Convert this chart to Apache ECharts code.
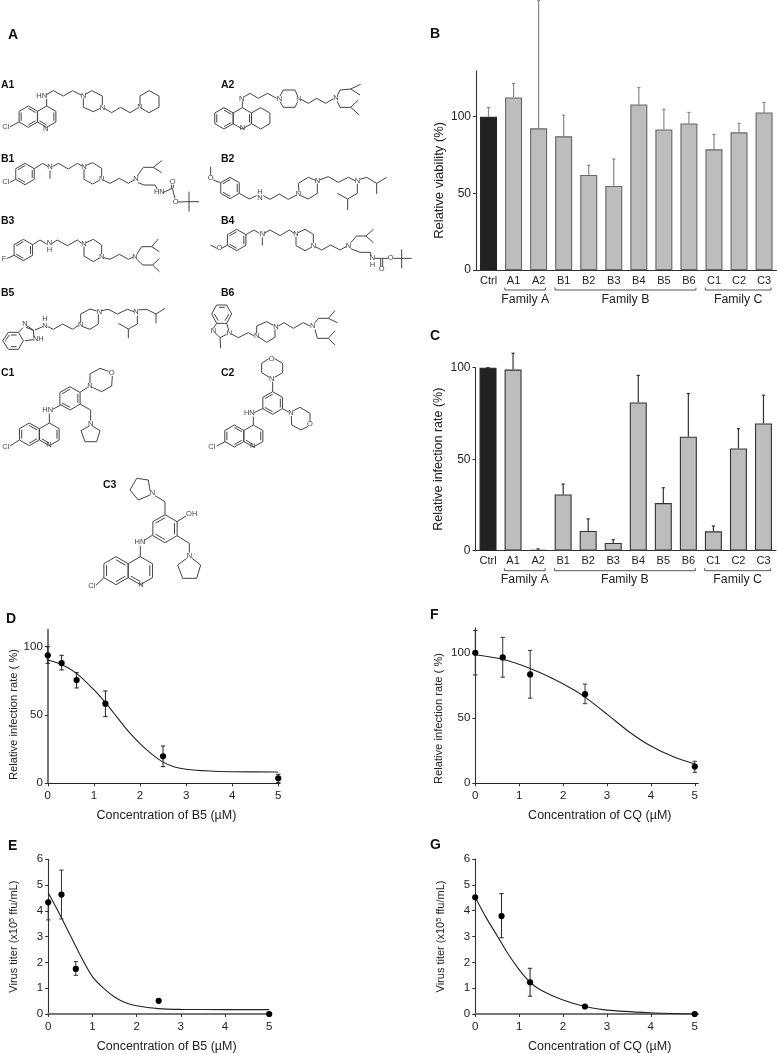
<!DOCTYPE html>
<html><head><meta charset="utf-8">
<style>html,body{margin:0;padding:0;background:#fff}#c{width:777px;height:1054px}</style>
<script src="https://cdn.jsdelivr.net/npm/echarts@6/dist/echarts.min.js"></script>
</head><body><div id="c"></div>
<script>
// ---------- DATA ----------
const categories = ['Ctrl','A1','A2','B1','B2','B3','B4','B5','B6','C1','C2','C3'];
const viability = [100,112.6,92.4,87.2,62,54.8,108,91.7,95.6,78.7,89.8,102.8];
const viabilityErrTop = [106,121.7,176,101,68.3,72.4,119,104.8,102.8,88.5,95.6,109.3];
const infection = [100,99,0.5,30.7,10.8,4.2,81,26,62.3,10.6,55.9,69.5];
const infectionErrTop = [100,107.9,1,36.4,17.4,6,95.8,34.4,85.9,13.5,66.7,85];
const familyNames = ['Family A','Family B','Family C'];
const familyStart = [1,3,9];
const familyEnd = [2,8,11];

const dX = [0,0.3,0.625,1.25,2.5,5];
const dY = [93.7,88,75.6,58.3,19.8,3.7];
const dLow = [87.8,83,69.8,48.8,12.2,0.5];
const dHigh = [100,93.7,81,67.6,27.3,6.6];
const dCurve = [[0,90.3],[0.3,87],[0.625,80.5],[1,68.5],[1.25,59],[1.5,48.5],[1.75,38],[2,29],[2.25,21.5],[2.5,15.5],[2.75,12],[3,10.3],[3.5,9],[4,8.5],[5,8.3]];

const eX = [0,0.3,0.625,2.5,5];
const eY = [4.33,4.63,1.75,0.51,0];
const eLow = [3.65,3.69,1.5,0.51,0];
const eHigh = [4.33,5.58,2.03,0.51,0];
const eCurve = [[0,4.7],[0.25,3.9],[0.5,3.05],[0.75,2.2],[1,1.45],[1.25,1],[1.5,0.66],[1.75,0.44],[2,0.32],[2.5,0.21],[3,0.18],[4,0.17],[5,0.17]];

const fX = [0,0.625,1.25,2.5,5];
const fY = [100,96.4,83.4,68.3,12.8];
const fLow = [83,81.3,65.2,61,8.4];
const fHigh = [117,111.8,101.8,76,16.9];
const fCurve = [[0,98.5],[0.625,95],[1.25,88],[1.75,80.5],[2.25,71.5],[2.5,66],[3,53],[3.5,39.5],[4,28.5],[4.5,20.5],[5,14.8]];

const gX = [0,0.6,1.25,2.5,5];
const gY = [4.52,3.79,1.23,0.29,0];
const gLow = [4.52,2.95,0.69,0.29,0];
const gHigh = [4.52,4.66,1.77,0.29,0];
const gCurve = [[0,4.52],[0.25,3.73],[0.5,3.03],[0.75,2.32],[1,1.72],[1.25,1.23],[1.5,0.92],[2,0.54],[2.5,0.29],[3,0.15],[4,0.05],[5,0]];

const xTicks = [0,1,2,3,4,5];
const pctTicks = [0,50,100];
const titerTicks = [0,1,2,3,4,5,6];

// ---------- CHEMICAL STRUCTURES (decorative drawing, coordinates are 3x page pixels) ----------
function hex(cx,cy,r){const p=[];for(let i=0;i<6;i++){const a=Math.PI/3*i-Math.PI/2;p.push([cx+r*Math.cos(a),cy+r*Math.sin(a)]);}p.push(p[0]);return p;}
function inner(cx,cy,r,ids){const a=i=>{const t=Math.PI/3*i-Math.PI/2;return [cx+r*0.78*Math.cos(t),cy+r*0.78*Math.sin(t)];};return ids.map(i=>[a(i),a((i+1)%6)]);}
const off1 = 20, off2 = 300;
const mol1 = [ // y offset 20
 hex(85,290,32),hex(140,290,32),...inner(85,290,32,[0,2,4]),...inner(140,290,32,[1,3]),
 [[30,320],[57,306]],[[140,258],[140,237]],[[137,225],[160,212],[190,228],[218,212],[243,225]],
 [[255,224],[275,212],[307,228],[307,255]],[[250,235],[250,262],[280,275],[301,265]],
 [[313,265],[335,278],[362,262],[390,278],[413,264]],[[420,255],[420,228],[447,212],[477,228],[477,262],[447,278],[426,266]],
 hex(672,295,32),hex(727,295,32),hex(782,295,32),...inner(672,295,32,[0,2,4]),...inner(727,295,32,[1]),
 [[727,263],[727,244]],[[733,230],[750,220],[775,235],[803,220],[830,235]],
 [[840,228],[850,210],[885,210],[893,228]],[[840,245],[850,262],[885,262],[893,245]],
 [[903,238],[925,250],[950,235],[977,250],[1000,236]],[[1012,227],[1020,210],[1052,207],[1082,193]],[[1052,207],[1080,225]],
 [[1012,244],[1020,262],[1052,262],[1075,240]],[[1052,262],[1078,285]],
 hex(75,462,32),...inner(75,462,32,[1,3,5]),[[30,487],[47,478]],[[103,446],[128,430],[144,440]],[[150,452],[150,476]],
 [[157,440],[175,430],[205,447],[232,430],[246,438]],[[258,436],[278,428],[305,445],[305,470]],[[252,448],[252,478],[278,492],[298,481]],
 [[311,481],[330,490],[358,475],[385,490],[402,480]],[[412,468],[430,442],[460,442],[485,422]],[[460,442],[485,458]],
 [[414,488],[432,495],[465,495],[472,508]],[[490,517],[517,505],[525,535]],[[514,505],[514,494]],[[520,505],[520,494]],[[534,546],[567,545],[597,545]],[[567,515],[567,575]],
 [[632,440],[632,465]],[[640,480],[662,488]],hex(690,504,32),...inner(690,504,32,[1,3,5]),[[718,520],[748,537],[770,527]],
 [[790,527],[810,538],[838,522],[865,538],[888,526]],[[897,515],[895,490],[925,472],[947,481]],[[902,527],[925,537],[952,520],[952,491]],
 [[958,480],[985,470],[1015,487],[1045,472],[1065,482]],[[1080,478],[1100,472],[1130,490],[1160,472]],[[1130,490],[1130,522]],
 [[1072,492],[1072,520],[1043,537],[1012,520]],[[1043,537],[1043,570]],
 hex(70,690,32),...inner(70,690,32,[1,3,5]),[[20,716],[42,706]],[[98,674],[120,660],[140,672]],[[156,670],[172,660],[202,677],[232,660],[245,670]],
 [[258,668],[280,658],[305,675],[305,702]],[[252,680],[252,708],[280,725],[298,714]],[[312,713],[330,718],[358,703],[385,718],[400,711]],
 [[411,702],[425,680],[455,680],[475,657]],[[455,680],[478,695]],[[411,718],[428,735],[458,735],[478,715]],[[458,735],[478,755]],
 [[632,675],[650,685]],[[666,684],[682,676]],hex(710,660,32),...inner(710,660,32,[1,3,5]),[[738,644],[762,630],[778,640]],[[787,652],[787,677]],
 [[792,640],[810,630],[840,647],[868,630],[882,640]],[[894,638],[915,628],[940,643],[940,669]],[[888,650],[888,677],[915,692],[934,682]],
 [[946,680],[965,690],[992,675],[1020,690],[1038,680]],[[1052,668],[1070,648],[1098,648],[1120,628]],[[1098,648],[1120,668]],
 [[1052,686],[1080,697],[1112,697],[1112,708]],[[1125,715],[1145,715],[1164,715]],[[1142,715],[1142,740]],[[1148,715],[1148,740]],[[1180,715],[1235,715]],[[1205,688],[1205,745]]
];
const mol2 = [ // y offset 300
 [[8,122],[25,97],[55,97],[70,122],[55,148],[25,148],[8,122]],[[33,105],[50,105]],[[33,140],[50,140]],[[16,122],[28,105]],
 [[55,97],[69,83]],[[81,78],[100,90],[102,112]],[[105,90],[128,80]],[[75,122],[100,119]],[[78,82],[102,92]],
 [[143,80],[160,88],[188,72],[218,88],[235,76]],[[242,68],[242,42],[270,27],[290,33]],[[248,80],[270,88],[295,72],[295,43]],
 [[304,32],[325,28],[352,42],[382,28],[402,35]],[[415,30],[440,28],[468,42],[495,25]],[[468,42],[468,70]],[[412,47],[412,72],[385,87],[355,70]],[[385,87],[385,115]],
 [[635,42],[650,15],[680,15],[695,42],[680,70],[650,70],[635,42]],[[657,22],[674,22]],[[643,42],[655,62]],[[687,42],[675,62]],
 [[650,70],[640,85]],[[680,70],[686,90]],[[645,98],[660,113],[680,103]],[[660,113],[662,145]],
 [[696,103],[715,113],[745,98],[762,108]],[[770,100],[770,78],[800,65],[820,76]],[[777,112],[800,127],[825,112],[825,88]],
 [[835,78],[852,68],[880,85],[910,68],[930,78]],[[945,68],[955,55],[985,55],[1005,32]],[[985,55],[1012,68]],[[945,88],[952,115],[985,115],[1005,92]],[[985,115],[1005,135]],
 hex(88,403,34),hex(148,403,34),...inner(88,403,34,[0,2,4]),...inner(148,403,34,[1,3]),[[30,438],[58,420]],
 [[148,369],[148,340]],[[158,328],[182,315]],hex(210,295,35),...inner(210,295,35,[1,3,5]),
 [[240,277],[263,262]],[[270,250],[270,222],[300,205],[326,214]],[[277,262],[305,275],[335,258],[337,228]],
 [[240,312],[272,330],[272,362]],[[268,378],[243,392],[255,425],[290,425],[300,392],[277,378]],
 hex(703,408,33),hex(760,408,33),...inner(703,408,33,[0,2,4]),...inner(760,408,33,[1,3]),[[650,438],[675,425]],
 [[760,375],[760,350]],[[763,338],[790,325]],hex(818,309,34),...inner(818,309,34,[1,3,5]),
 [[818,275],[818,245]],[[808,232],[785,218],[785,190],[806,176]],[[824,232],[848,218],[848,190],[824,176]],
 [[848,326],[866,336]],[[880,332],[900,322],[930,340],[930,364]],[[874,348],[875,375],[903,390],[924,379]],
 hex(348,812,42),hex(421,812,42),...inner(348,812,42,[0,2,4]),...inner(421,812,42,[1,3]),[[288,855],[312,833]],
 [[421,770],[421,738]],[[432,722],[458,705]],hex(495,686,42),...inner(495,686,42,[1,3,5]),
 [[495,644],[495,605],[465,587]],[[450,572],[445,540],[410,535],[390,570],[415,600],[450,585]],
 [[531,665],[558,648]],[[531,707],[568,730],[568,758]],[[576,775],[602,795],[590,835],[548,835],[533,795],[560,775]]
];
const atoms1 = [['Cl',17,322],['N',137,326],['HN',125,228],['N',250,228],['N',307,263],['N',420,262],
 ['N',727,323],['N',725,236],['N',838,236],['N',897,236],['N',1008,235],
 ['Cl',17,487],['N',150,442],['N',252,440],['N',305,478],['N',408,478],['HN',478,517],['O',518,487],['O',527,545],
 ['O',632,475],['N',780,535],['H',780,515],['N',895,523],['N',952,483],['N',1072,483],
 ['F',12,717],['N',148,670],['H',148,691],['N',252,672],['N',305,710],['N',405,710],
 ['O',658,685],['N',787,642],['N',888,642],['N',940,677],['N',1045,677],['N',1117,715],['H',1117,735],['O',1172,715],['O',1145,748]];
const atoms2 = [['N',75,73],['H',135,57],['N',135,78],['NH',115,118],['N',242,75],['N',298,35],['N',408,37],
 ['N',688,100],['N',640,92],['N',770,108],['N',828,80],['N',938,78],
 ['Cl',17,440],['N',147,435],['HN',143,330],['N',270,258],['O',335,218],['N',272,372],
 ['Cl',635,440],['N',758,438],['HN',748,340],['N',815,237],['O',815,178],['N',873,338],['O',930,373],
 ['Cl',275,858],['N',423,855],['HN',420,725],['N',457,578],['OH',575,643],['N',568,768]];
const compoundLabels = [['A1',1,85],['A2',221,85],['B1',1,159],['B2',221,159],['B3',1,221],['B4',221,221],['B5',1,293],['B6',221,293],['C1',1,373],['C2',221,373],['C3',103,485]];
const panelLabels = [['A',8,35],['B',430,34],['C',430,336],['D',6,619],['E',8,846],['F',430,615],['G',430,845]];

const graphics = [];
function addMol(list,off){list.forEach(pts=>graphics.push({type:'polyline',silent:true,shape:{points:pts.map(p=>[p[0]/3,p[1]/3+off])},style:{stroke:'#444',lineWidth:1,fill:null}}));}
function addAtoms(list,off){list.forEach(a=>graphics.push({type:'text',silent:true,x:a[1]/3,y:a[2]/3+off,style:{text:a[0],fill:'#444',font:'7.5px "Liberation Sans"',align:'center',verticalAlign:'middle',backgroundColor:'transparent'}}));}
addMol(mol1,off1);addMol(mol2,off2);addAtoms(atoms1,off1);addAtoms(atoms2,off2);
compoundLabels.forEach(l=>graphics.push({type:'text',silent:true,x:l[1],y:l[2],style:{text:l[0],fill:'#111',font:'bold 10.5px "Liberation Sans"',align:'left',verticalAlign:'middle'}}));
panelLabels.forEach(l=>graphics.push({type:'text',silent:true,x:l[1],y:l[2],style:{text:l[0],fill:'#111',font:'bold 14px "Liberation Sans"',align:'left',verticalAlign:'middle'}}));

// ---------- CHART ----------
const FONT='"Liberation Sans"', TXT='#222';
const grids=[
 {left:476,top:70.7,width:300.6,height:199.3},
 {left:475.5,top:367.7,width:300.5,height:183},
 {left:47.8,top:629.7,width:232.3,height:153.6},
 {left:48.2,top:859.3,width:221.9,height:157.4},
 {left:475.3,top:627.7,width:223,height:155.6},
 {left:475.2,top:859,width:223,height:156.7}
];
function catAxis(i,c){return {type:'category',gridIndex:i,data:categories,axisLine:{lineStyle:{color:c,width:1.1}},axisTick:{show:false},
 axisLabel:{interval:0,margin:5,fontFamily:FONT,fontSize:11,color:TXT}};}
function yA(i,max,ticks,name,gap,size,c,pad,fs){return {type:'value',gridIndex:i,min:0,max:max,splitLine:{show:false},
 axisLine:{show:true,lineStyle:{color:c,width:c==='#777'?2:1.1}},
 axisTick:{show:true,length:3,customValues:ticks,lineStyle:{color:'#333',width:1}},
 axisLabel:{customValues:ticks,margin:5,fontFamily:FONT,fontSize:fs||12,color:TXT},
 name:name,nameLocation:'middle',nameGap:gap,nameTextStyle:{fontFamily:FONT,fontSize:size,color:TXT,padding:pad||0,rich:{s:{fontFamily:FONT,fontSize:7.5,color:TXT,verticalAlign:'top',padding:[0,0,4,0]}}}};}
function xA(i,max,name,c,pad){return {type:'value',gridIndex:i,min:0,max:max,splitLine:{show:false},
 axisLine:{show:true,lineStyle:{color:c,width:c==='#777'?2:1.1}},
 axisTick:{show:true,length:3,customValues:xTicks,lineStyle:{color:'#333',width:1}},
 axisLabel:{customValues:xTicks,margin:7,fontFamily:FONT,fontSize:11.5,color:TXT},
 name:name,nameLocation:'middle',nameGap:26,nameTextStyle:{fontFamily:FONT,fontSize:12.5,color:TXT,padding:pad||0}};}

function barSeries(i,vals,border){return {type:'bar',xAxisIndex:i,yAxisIndex:i,barWidth:17,z:2,
 data:vals.map((v,k)=>({value:v,itemStyle:{color:k===0?'#222':'#bdbdbd',borderColor:k===0?'#222':border,borderWidth:1.1}}))};}
function barErr(i,vals,tops,color,w){return {type:'custom',xAxisIndex:i,yAxisIndex:i,z:1,silent:true,encode:{x:0,y:[1,2]},
 data:vals.map((v,k)=>[k,v,tops[k]]),
 renderItem(p,api){const a=api.coord([api.value(0),api.value(1)]),b=api.coord([api.value(0),api.value(2)]);
  const st={stroke:color,lineWidth:w,fill:null};
  return {type:'group',children:[{type:'line',shape:{x1:a[0],y1:a[1],x2:b[0],y2:b[1]},style:st},
   {type:'line',shape:{x1:b[0]-1.6,y1:b[1],x2:b[0]+1.6,y2:b[1]},style:st}]};}};}
function brackets(i,ly){return {type:'custom',xAxisIndex:i,yAxisIndex:i,silent:true,encode:{x:0,y:1},
 data:familyStart.map((s,k)=>[s,0,familyEnd[k]]),
 renderItem(p,api){const l=api.coord([api.value(0),0]),r=api.coord([api.value(2),0]);
  const x1=l[0]-8.7,x2=r[0]+7,y=l[1];
  return {type:'group',children:[
   {type:'polyline',shape:{points:[[x1,y+17.5],[x1,y+20],[x2,y+20],[x2,y+17.5]]},style:{stroke:'#444',lineWidth:0.9,fill:null}},
   {type:'text',x:(x1+x2)/2,y:y+ly,style:{text:familyNames[p.dataIndex],font:'12.3px '+FONT,fill:TXT,align:'center',verticalAlign:'middle'}}]};}};}
function curve(i,pts){return {type:'line',xAxisIndex:i,yAxisIndex:i,data:pts,smooth:0.3,symbol:'none',silent:true,z:2,lineStyle:{color:'#222',width:1.1}};}
function pts(i,x,y){return {type:'scatter',xAxisIndex:i,yAxisIndex:i,data:x.map((v,k)=>[v,y[k]]),symbol:'circle',symbolSize:6.2,itemStyle:{color:'#000',opacity:1},silent:true,z:4,clip:false};}
function errs(i,x,lo,hi,color,w){return {type:'custom',xAxisIndex:i,yAxisIndex:i,z:3,silent:true,encode:{x:0,y:[1,2]},
 data:x.map((v,k)=>[v,lo[k],hi[k]]).filter(d=>d[1]!==d[2]),
 renderItem(p,api){const a=api.coord([api.value(0),api.value(1)]),b=api.coord([api.value(0),api.value(2)]);
  const st={stroke:color,lineWidth:w,fill:null};
  return {type:'group',children:[{type:'line',shape:{x1:a[0],y1:a[1],x2:b[0],y2:b[1]},style:st},
   {type:'line',shape:{x1:a[0]-2.2,y1:a[1],x2:a[0]+2.2,y2:a[1]},style:st},
   {type:'line',shape:{x1:b[0]-2.2,y1:b[1],x2:b[0]+2.2,y2:b[1]},style:st}]};}};}

const titerName='Virus titer (x10{s|5} ffu/mL)';
const option={animation:false,backgroundColor:'#fff',textStyle:{fontFamily:FONT},
 grid:grids,
 xAxis:[catAxis(0,'#333'),catAxis(1,'#333'),
  xA(2,5.04,'Concentration of B5 (µM)','#222',[0,0,0,5]),
  xA(3,5.02,'Concentration of B5 (µM)','#777',[0,0,0,15]),
  xA(4,5.08,'Concentration of CQ (µM)','#222',[0,0,0,26]),
  xA(5,5.08,'Concentration of CQ (µM)','#777',[0,0,0,26])],
 yAxis:[
  yA(0,130,pctTicks,'Relative viability (%)',30.5,13,'#333',[0,20,0,0]),
  yA(1,100,pctTicks,'Relative infection rate (%)',30,12.5,'#333'),
  yA(2,112.45,pctTicks,'Relative infection rate ( %)',25.5,11.2,'#777',[0,16,0,0],11.5),
  yA(3,6,titerTicks,titerName,28,11,'#333',0,11.5),
  yA(4,119.2,pctTicks,'Relative infection rate ( %)',31,11.2,'#333',[0,26,0,0],11.5),
  yA(5,6,titerTicks,titerName,28,11,'#333',0,11.5)],
 graphic:{elements:graphics},
 series:[
  barErr(0,viability,viabilityErrTop,'#888',1.2),barSeries(0,viability,'#666'),brackets(0,29.5),
  barErr(1,infection,infectionErrTop,'#333',1.2),barSeries(1,infection,'#333'),brackets(1,28.5),
  curve(2,dCurve),errs(2,dX,dLow,dHigh,'#222',1),pts(2,dX,dY),
  curve(3,eCurve),errs(3,eX,eLow,eHigh,'#333',1),pts(3,eX,eY),
  curve(4,fCurve),errs(4,fX,fLow,fHigh,'#333',1),pts(4,fX,fY),
  curve(5,gCurve),errs(5,gX,gLow,gHigh,'#222',1),pts(5,gX,gY)
 ]};
const chart=echarts.init(document.getElementById('c'),null,{renderer:'canvas'});
chart.setOption(option);
</script></body></html>
